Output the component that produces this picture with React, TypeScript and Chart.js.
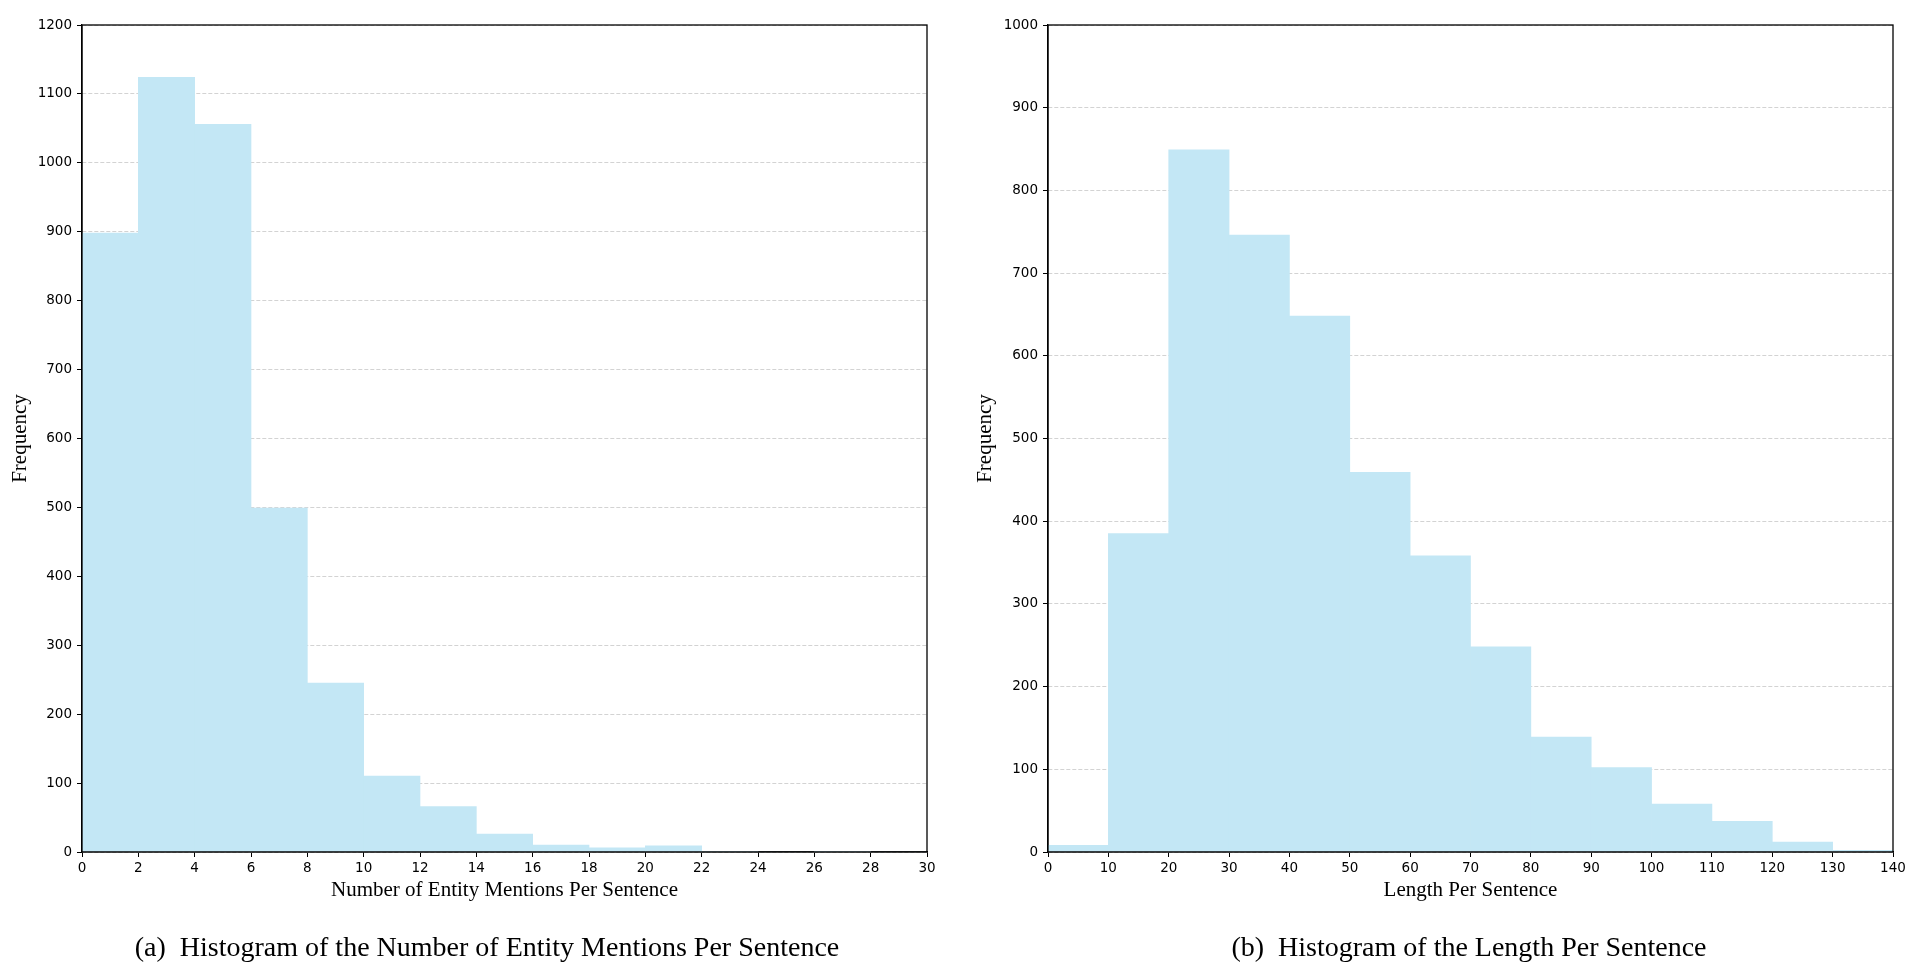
import React, { useEffect, useRef } from "react";
import { Chart, registerables } from "chart.js";

Chart.register(...registerables);

// ---- Data ----
const entityBinStarts = [0, 2, 4, 6, 8, 10, 12, 14, 16, 18, 20, 22, 24, 26, 28];
const entityCounts = [898, 1124, 1056, 499, 245, 110, 66, 26, 10, 6, 9, 1, 0, 1, 0];
const entityBinWidth = 2;
const entityXTicks = { min: 0, max: 30, step: 2 };
const entityYTicks = { min: 0, max: 1200, step: 100 };

const lengthBinStarts = [0, 10, 20, 30, 40, 50, 60, 70, 80, 90, 100, 110, 120, 130];
const lengthCounts = [8, 385, 849, 746, 648, 459, 358, 248, 139, 102, 58, 37, 12, 2];
const lengthBinWidth = 10;
const lengthXTicks = { min: 0, max: 140, step: 10 };
const lengthYTicks = { min: 0, max: 1000, step: 100 };

const xTitleA = "Number of Entity Mentions Per Sentence";
const xTitleB = "Length Per Sentence";
const yTitle = "Frequency";
const captionA = "(a)  Histogram of the Number of Entity Mentions Per Sentence";
const captionB = "(b)  Histogram of the Length Per Sentence";

const BAR_COLOR = "#c3e7f5";
const TICK_FONT = { family: "DejaVu Sans", size: 13.5 };
const TITLE_FONT = { family: "Liberation Serif", size: 21 };

const framePlugin = {
  id: "frame",
  afterDraw(chart: any) {
    const { ctx, chartArea } = chart;
    ctx.save();
    ctx.strokeStyle = "#000";
    ctx.lineWidth = 1.3;
    ctx.strokeRect(chartArea.left, chartArea.top, chartArea.right - chartArea.left, chartArea.bottom - chartArea.top);
    ctx.restore();
  },
};

type Cfg = {
  starts: number[];
  counts: number[];
  binW: number;
  xt: { min: number; max: number; step: number };
  yt: { min: number; max: number; step: number };
  xTitle: string;
  padLeft: number;
  yWidth: number;
  padRight: number;
};

const plain = (v: any) => String(v);

function makeChart(canvas: HTMLCanvasElement, c: Cfg) {
  const padTop = 25;
  const padBottom = 74.4;
  const xHeight = 50.6;
  return new Chart(canvas, {
    type: "bar",
    data: {
      datasets: [
        {
          data: c.counts.map((v, i) => ({ x: c.starts[i] + c.binW / 2, y: v })),
          backgroundColor: BAR_COLOR,
          borderWidth: 0,
          barPercentage: 1,
          categoryPercentage: 1,
        },
      ],
    },
    options: {
      responsive: false,
      animation: false,
      devicePixelRatio: 1,
      layout: { padding: { left: c.padLeft, top: padTop, right: c.padRight, bottom: padBottom } },
      plugins: { legend: { display: false }, tooltip: { enabled: false }, title: { display: false } },
      scales: {
        x: {
          type: "linear",
          min: c.xt.min,
          max: c.xt.max,
          offset: false,
          grid: {
            offset: false,
            drawOnChartArea: false,
            drawTicks: true,
            tickLength: 5,
            tickColor: "#000",
            tickWidth: 1,
          },
          border: { display: true, color: "#000", width: 1.3 },
          ticks: {
            stepSize: c.xt.step,
            color: "#000",
            font: TICK_FONT,
            padding: 3,
            maxRotation: 0,
            autoSkip: false,
            callback: plain,
          },
          title: { display: true, text: c.xTitle, color: "#000", font: TITLE_FONT, padding: 0 },
          afterFit: (s: any) => {
            s.height = xHeight;
          },
        },
        y: {
          type: "linear",
          min: c.yt.min,
          max: c.yt.max,
          z: 1,
          grid: {
            color: "#d3d3d3",
            lineWidth: 1,
            drawTicks: true,
            tickLength: 5,
            tickColor: "#000",
            tickWidth: 1,
            tickBorderDash: [],
          },
          border: { display: true, color: "#000", width: 1.3, dash: [4, 2] },
          ticks: {
            stepSize: c.yt.step,
            color: "#000",
            font: TICK_FONT,
            padding: 5,
            autoSkip: false,
            callback: plain,
          },
          title: { display: true, text: yTitle, color: "#000", font: TITLE_FONT, padding: 0 },
          afterFit: (s: any) => {
            s.width = c.yWidth;
          },
        },
      },
    },
    plugins: [framePlugin],
  } as any);
}

export default function App() {
  const refA = useRef<HTMLCanvasElement>(null);
  const refB = useRef<HTMLCanvasElement>(null);

  useEffect(() => {
    const a = makeChart(refA.current!, {
      starts: entityBinStarts,
      counts: entityCounts,
      binW: entityBinWidth,
      xt: entityXTicks,
      yt: entityYTicks,
      xTitle: xTitleA,
      padLeft: 8,
      yWidth: 74,
      padRight: 33,
    });
    const b = makeChart(refB.current!, {
      starts: lengthBinStarts,
      counts: lengthCounts,
      binW: lengthBinWidth,
      xt: lengthXTicks,
      yt: lengthYTicks,
      xTitle: xTitleB,
      padLeft: 13,
      yWidth: 75,
      padRight: 27,
    });
    return () => {
      a.destroy();
      b.destroy();
    };
  }, []);

  const captionStyle: React.CSSProperties = {
    position: "absolute",
    top: 930.5,
    width: 900,
    textAlign: "center",
    fontFamily: "'Liberation Serif', 'Times New Roman', serif",
    fontSize: 28,
    lineHeight: "32px",
    whiteSpace: "pre",
    color: "#000",
  };

  return (
    <div style={{ position: "fixed", left: 0, top: 0, width: 1920, height: 977, background: "#fff", overflow: "hidden" }}>
      <canvas ref={refA} width={960} height={977} style={{ position: "absolute", left: 0, top: 0, width: 960, height: 977 }} />
      <canvas ref={refB} width={960} height={977} style={{ position: "absolute", left: 960, top: 0, width: 960, height: 977 }} />
      <div style={{ ...captionStyle, left: 487 - 450 }}>{captionA}</div>
      <div style={{ ...captionStyle, left: 1469 - 450 }}>{captionB}</div>
    </div>
  );
}
